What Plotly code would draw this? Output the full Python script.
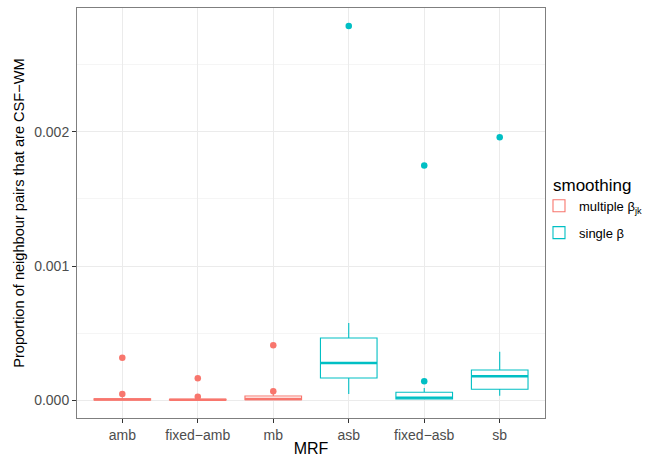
import plotly.graph_objects as go

# MRF variants and their smoothing group
mrf_order = ["amb", "fixed\u2212amb", "mb", "asb", "fixed\u2212asb", "sb"]

multi_cats = ["amb", "fixed\u2212amb", "mb"]
multi_lower = [0.0, 0.0, 0.0]
multi_q1 = [0.0, 0.0, 0.000002]
multi_median = [0.000004, 0.000002, 0.000008]
multi_q3 = [0.000010, 0.000006, 0.000030]
multi_upper = [0.000020, 0.000012, 0.000045]
multi_out_x = ["amb", "amb", "fixed\u2212amb", "fixed\u2212amb", "mb", "mb"]
multi_out_y = [0.000316, 0.000045, 0.000162, 0.000025, 0.000408, 0.000065]

single_cats = ["asb", "fixed\u2212asb", "sb"]
single_lower = [0.000045, 0.000008, 0.000032]
single_q1 = [0.000164, 0.000008, 0.000080]
single_median = [0.000276, 0.000018, 0.000177]
single_q3 = [0.000463, 0.000058, 0.000224]
single_upper = [0.000575, 0.000090, 0.000360]
single_out_x = ["asb", "fixed\u2212asb", "fixed\u2212asb", "sb"]
single_out_y = [0.00279, 0.00175, 0.00014, 0.00196]

RED = "#F8766D"
TEAL = "#00BFC4"
BOX_W = 0.75
FONT = "Liberation Sans, Arial, sans-serif"

fig = go.Figure()


def add_group(name, cats, lo, q1, med, q3, hi, ox, oy, color):
    fig.add_trace(go.Box(
        name=name, x=cats, q1=q1, median=med, q3=q3,
        lowerfence=lo, upperfence=hi, width=BOX_W,
        line=dict(color=color, width=1.1), fillcolor="white",
        whiskerwidth=0, boxpoints=False, hoverinfo="skip",
        legendgroup=name,
    ))
    # thicker median bar
    fig.add_trace(go.Box(
        name=name, x=cats, q1=med, median=med, q3=med,
        lowerfence=med, upperfence=med, width=BOX_W,
        line=dict(color=color, width=2.4), fillcolor="rgba(0,0,0,0)",
        whiskerwidth=0, boxpoints=False, hoverinfo="skip",
        showlegend=False, legendgroup=name,
    ))
    fig.add_trace(go.Scatter(
        x=ox, y=oy, mode="markers", showlegend=False,
        marker=dict(color=color, size=6.5), legendgroup=name,
        hoverinfo="skip",
    ))


add_group("multiple β<sub>jk</sub>", multi_cats, multi_lower, multi_q1,
          multi_median, multi_q3, multi_upper, multi_out_x, multi_out_y, RED)
add_group("single β", single_cats, single_lower, single_q1,
          single_median, single_q3, single_upper, single_out_x, single_out_y, TEAL)

axis_common = dict(
    showline=True, mirror=True, linecolor="#7F7F7F", linewidth=1,
    ticks="outside", ticklen=4, tickcolor="#333333", tickwidth=1,
    gridcolor="#EBEBEB", gridwidth=1, zeroline=False,
    tickfont=dict(family=FONT, size=14, color="#4D4D4D"),
)

fig.update_layout(
    width=649, height=462,
    margin=dict(l=77, r=104, t=8, b=44, autoexpand=False),
    paper_bgcolor="white", plot_bgcolor="white",
    boxmode="overlay",
    font=dict(family=FONT, size=13, color="black"),
    xaxis=dict(
        type="category", categoryorder="array", categoryarray=mrf_order,
        range=[-0.6, 5.6],
        title=dict(text="MRF", standoff=1, font=dict(family=FONT, size=16, color="black")),
        **axis_common,
    ),
    yaxis=dict(
        range=[-0.000134, 0.002925], dtick=0.001, tick0=0, tickformat=".3f",
        title=dict(text="Proportion of neighbour pairs that are CSF\u2212WM", standoff=6,
                   font=dict(family=FONT, size=14.6, color="black")),
        minor=dict(dtick=0.0005, showgrid=True, gridcolor="#F5F5F5", ticks=""),
        **axis_common,
    ),
    legend=dict(
        x=1.0128, y=0.608, xanchor="left", yanchor="top",
        title=dict(text="smoothing", font=dict(family=FONT, size=17)),
        font=dict(family=FONT, size=13), tracegroupgap=7, itemwidth=30,
        indentation=-12,
        bgcolor="rgba(0,0,0,0)",
    ),
)

fig.write_html("out.html")
